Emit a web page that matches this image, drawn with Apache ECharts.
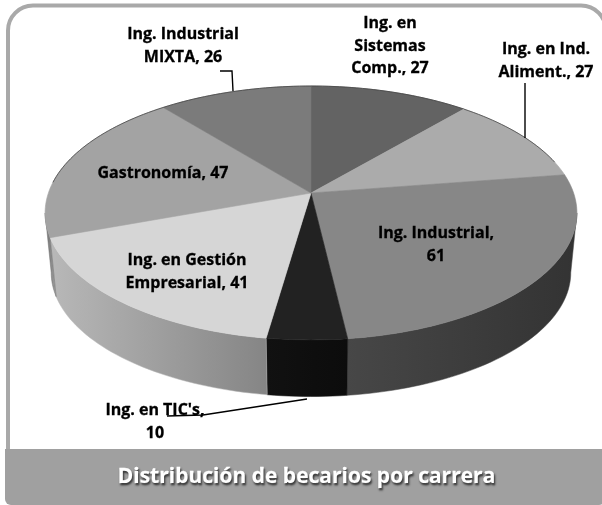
<!DOCTYPE html>
<html><head><meta charset="utf-8">
<style>html,body{margin:0;padding:0;background:#fff}#c{width:602px;height:505px}</style>
<script src="https://cdn.jsdelivr.net/npm/echarts@6/dist/echarts.min.js"></script></head>
<body><div id="c"></div>
<script>
const categories = ["Ing. en Sistemas Comp.","Ing. en Ind. Aliment.","Ing. Industrial","Ing. en TIC's","Ing. en Gestión Empresarial","Gastronomía","Ing. Industrial MIXTA"];
const values = [27,27,61,10,41,47,26];
const labelTexts = ["Ing. en\nSistemas\nComp., 27","Ing. en Ind.\nAliment., 27","Ing. Industrial,\n61","Ing. en TIC's,\n10","Ing. en Gestión\nEmpresarial, 41","Gastronomía, 47","Ing. Industrial\nMIXTA, 26"];
const topColors = ["#636363","#ababab","#878787","#222222","#d6d6d6","#a3a3a3","#7b7b7b"];
const sideColors = [["#444","#444"],["#777","#777"],["#474747","#333333"],["#111111","#0c0c0c"],["#b8b8b8","#858585"],["#6f6f6f","#a0a0a0"],["#555","#555"]];
const titleText = "Distribución de becarios por carrera";

// projective view of a flat disc
const view = {cx:311, cy:193, bx:262.6, ay:123.8, p:0.1573, depth:60, shrink:0.977};
function project(deg, lower){
  const t = deg*Math.PI/180, u = Math.sin(t), v = Math.cos(t), w = 1+view.p*v;
  const s = lower ? view.shrink : 1, dy = lower ? view.depth : 0;
  return [view.cx + s*view.bx*u/w, view.cy + dy - s*view.ay*v/w];
}
function arc(a0,a1,lower){
  const n = Math.max(2,Math.ceil(Math.abs(a1-a0)/1.5)), pts=[];
  for(let i=0;i<=n;i++) pts.push(project(a0+(a1-a0)*i/n,lower));
  return pts;
}
const total = values.reduce((a,b)=>a+b,0);
const startAngles = []; values.reduce((acc,v,i)=>(startAngles[i]=acc,acc+v),0);
const angle = x => x/total*360;
const limit = Math.acos(-view.p)*180/Math.PI;

function sideItem(params,api){
  const i = params.dataIndex, a0 = Math.max(angle(startAngles[i]),limit), a1 = Math.min(angle(startAngles[i]+api.value(0)),360-limit);
  if(a1<=a0) return {type:'group',children:[]};
  const pts = arc(a0,a1,false).concat(arc(a1,a0,true));
  return {type:'polygon',shape:{points:pts},style:{fill:{type:'linear',x:0,y:0,x2:1,y2:0,colorStops:[{offset:0,color:sideColors[i][0]},{offset:1,color:sideColors[i][1]}]},stroke:sideColors[i][0],lineWidth:0.5}};
}
function topItem(params,api){
  const i = params.dataIndex, a0 = angle(startAngles[i]), a1 = angle(startAngles[i]+api.value(0));
  const children = [{type:'polygon',shape:{points:[[view.cx,view.cy]].concat(arc(a0,a1,false))},style:{fill:topColors[i],stroke:topColors[i],lineWidth:0.6}}];
  if(a1>275) children.push({type:'polyline',shape:{points:arc(Math.max(a0,275),a1,false)},style:{fill:'none',stroke:'#444',lineWidth:0.8}});
  if(a0<75) children.push({type:'polyline',shape:{points:arc(a0,Math.min(a1,75),false)},style:{fill:'none',stroke:'#444',lineWidth:0.8}});
  return {type:'group',children};
}
const labelStyle = {fontFamily:'"Open Sans"',fontWeight:'bold',fontSize:16,lineHeight:22.5,fill:'#000',stroke:'#000',lineWidth:0.3,align:'center',verticalAlign:'middle'};
const labelAt = [[390,46],[546,61],[436,245],[155,422],[187,272],[163,173],[183,46]];
const leaders = [[[220,71],[232,71],[233,91]],[[525,83],[525,138]],[[167,416],[203,415],[307,399]]];

const chart = echarts.init(document.getElementById('c'),null,{renderer:'canvas'});
chart.setOption({
  animation:false,
  series:[
    {type:'custom',coordinateSystem:'none',renderItem:sideItem,data:values.map((v,i)=>({name:categories[i],value:[v]})),z:1,silent:true},
    {type:'custom',coordinateSystem:'none',renderItem:topItem,data:values.map((v,i)=>({name:categories[i],value:[v]})),z:2,silent:true}
  ],
  graphic:{elements:[
    {type:'rect',z:0,silent:true,shape:{x:8,y:5.5,width:598,height:470,r:25},style:{fill:'#fff',stroke:'#a9a9a9',lineWidth:4}},
    {type:'rect',z:5,silent:true,shape:{x:5,y:449,width:600,height:56,r:[0,0,6,6]},style:{fill:'#a0a0a0'}},
    {type:'text',z:6,silent:true,x:306.5,y:477,style:{text:titleText,fontFamily:'"Open Sans"',fontWeight:'bold',fontSize:21,fill:'#fff',stroke:'#fff',lineWidth:0.4,align:'center',verticalAlign:'middle',textShadowColor:'#333',textShadowBlur:2,textShadowOffsetX:1,textShadowOffsetY:2}},
    ...leaders.map(pts=>({type:'polyline',z:9,silent:true,shape:{points:pts},style:{fill:'none',stroke:'#000',lineWidth:1.4}})),
    ...labelTexts.map((t,i)=>({type:'text',z:8,silent:true,x:labelAt[i][0],y:labelAt[i][1],style:Object.assign({text:t},labelStyle)}))
  ]}
});
</script></body></html>
